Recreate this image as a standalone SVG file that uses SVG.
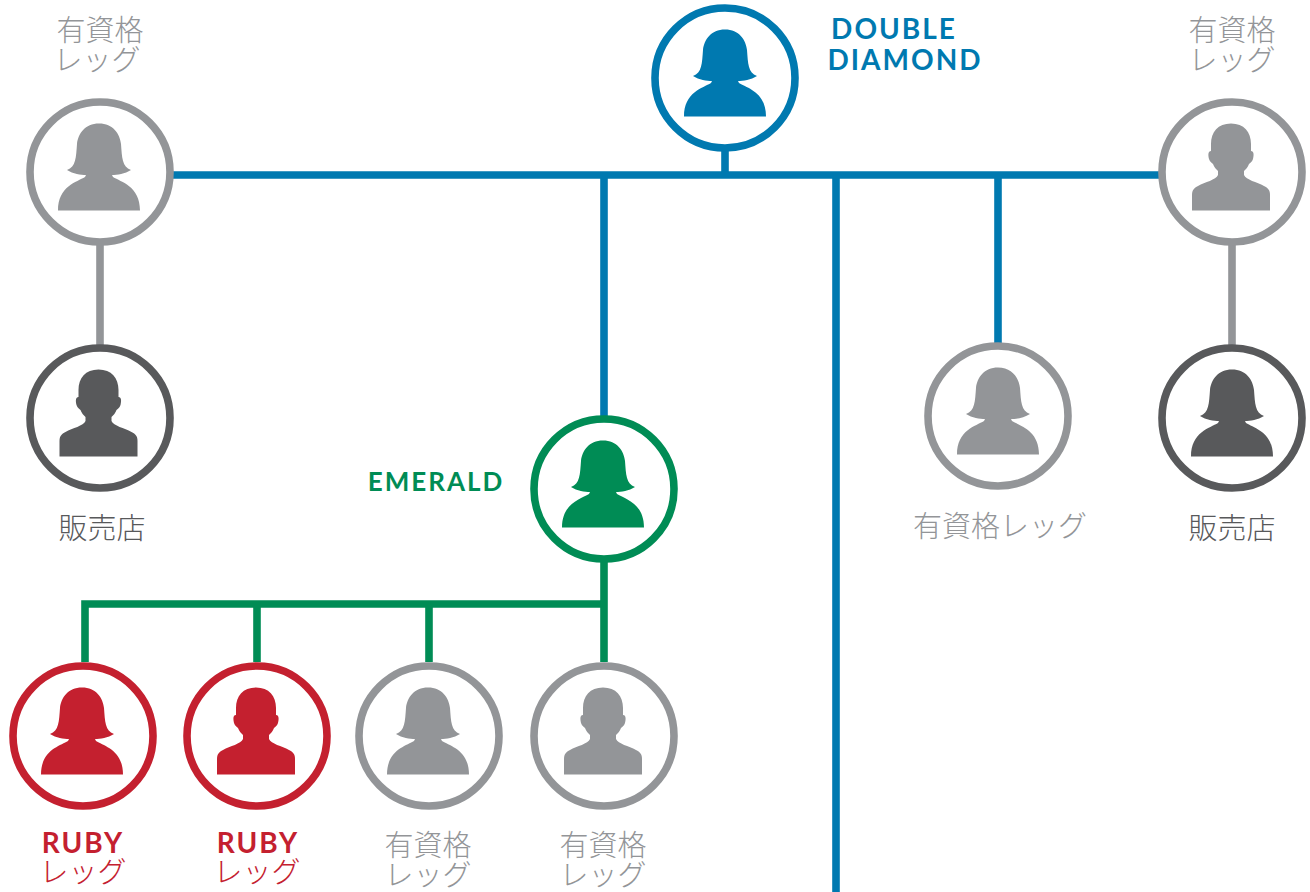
<svg xmlns="http://www.w3.org/2000/svg" xmlns:xlink="http://www.w3.org/1999/xlink" width="1310" height="892" viewBox="0 0 1310 892">
<style>
.ring{fill:#fff;stroke-width:7.6}
.b{stroke:#0079b0}.g{stroke:#939598}.d{stroke:#58595b}.e{stroke:#008c55}.r{stroke:#c4202f}
.fb{fill:#0079b0}.fg{fill:#939598}.fd{fill:#58595b}.fe{fill:#008c55}.fr{fill:#c4202f}
.cn{fill:none;stroke-width:7.6}
text{text-anchor:middle}
.ja{font-family:"Noto Sans CJK JP","Noto Sans",sans-serif;font-size:29px;font-weight:300}
.la{font-family:Lato,"Liberation Sans",sans-serif;font-size:28px;font-weight:700;letter-spacing:2px}
</style>
<defs>
<path id="f" d="M0,-48.5C-14,-48.5 -21,-38 -22,-28C-23,-15 -23,-5 -32,-2C-26,2 -18,3 -13,3L-14,5C-22,10 -41,14 -41,38.5L41,38.5C41,14 22,10 14,5L13,3C18,3 26,2 32,-2C23,-5 23,-15 22,-28C21,-38 14,-48.5 0,-48.5Z"/>
<path id="m" d="M0,-48.5C-13,-48.5 -20,-40 -20,-28L-20,-21C-23,-21 -23,-17 -22,-13C-21,-10 -19,-9 -18,-8C-17,-5 -15,-3 -13,-1L-13,3C-15,8 -26,10 -33,14C-37,16 -39,18 -39,23L-39,38.5L39,38.5L39,23C39,18 37,16 33,14C26,10 15,8 13,3L13,-1C15,-3 17,-5 18,-8C19,-9 21,-10 22,-13C23,-17 23,-21 20,-21L20,-28C20,-40 13,-48.5 0,-48.5Z"/>
</defs>
<g id="connectors">
<path class="cn b" d="M725,150V175M172,175H1160M604,175V418M836,175V892M998,175V345"/>
<path class="cn g" d="M100,244V346M1232,244V346"/>
<path class="cn e" d="M604,561V662M85,662V604H604M257,604V662M429,604V662"/>
</g>
<g id="double-diamond"><circle class="ring b" cx="725" cy="78" r="70"/><use href="#f" x="725" y="78" class="fb"/><text class="la fb" x="894" y="39">DOUBLE</text><text class="la fb" x="905" y="70">DIAMOND</text></g>
<g id="leg-top-left"><circle class="ring g" cx="100" cy="172" r="70"/><use href="#f" x="99" y="172" class="fg"/><text class="ja fg" x="100" y="41">有資格</text><text class="ja fg" x="97" y="71">レッグ</text></g>
<g id="leg-top-right"><circle class="ring g" cx="1232" cy="172" r="70"/><use href="#m" x="1231" y="172" class="fg"/><text class="ja fg" x="1232" y="41">有資格</text><text class="ja fg" x="1232" y="71">レッグ</text></g>
<g id="seller-left"><circle class="ring d" cx="100" cy="418" r="70"/><use href="#m" x="98.500" y="418" class="fd"/><text class="ja fd" x="102" y="539">販売店</text></g>
<g id="seller-right"><circle class="ring d" cx="1232" cy="418" r="70"/><use href="#f" x="1232" y="418" class="fd"/><text class="ja fd" x="1232" y="539">販売店</text></g>
<g id="leg-mid"><circle class="ring g" cx="998" cy="416" r="70"/><use href="#f" x="998" y="416" class="fg"/><text class="ja fg" x="1000" y="537">有資格レッグ</text></g>
<g id="emerald"><circle class="ring e" cx="604" cy="489" r="70"/><use href="#f" x="603" y="489" class="fe"/><text class="la fe" x="436" y="491" style="font-size:26px">EMERALD</text></g>
<g id="ruby-1"><circle class="ring r" cx="83" cy="736" r="70"/><use href="#f" x="82" y="736" class="fr"/><text class="la fr" x="83" y="853">RUBY</text><text class="ja fr" x="83" y="883">レッグ</text></g>
<g id="ruby-2"><circle class="ring r" cx="257" cy="736" r="70"/><use href="#m" x="256" y="736" class="fr"/><text class="la fr" x="258" y="853">RUBY</text><text class="ja fr" x="257" y="883">レッグ</text></g>
<g id="leg-3"><circle class="ring g" cx="429" cy="736" r="70"/><use href="#f" x="428" y="736" class="fg"/><text class="ja fg" x="428" y="856">有資格</text><text class="ja fg" x="428" y="886">レッグ</text></g>
<g id="leg-4"><circle class="ring g" cx="604" cy="736" r="70"/><use href="#m" x="603" y="736" class="fg"/><text class="ja fg" x="603" y="856">有資格</text><text class="ja fg" x="603" y="886">レッグ</text></g>
</svg>
